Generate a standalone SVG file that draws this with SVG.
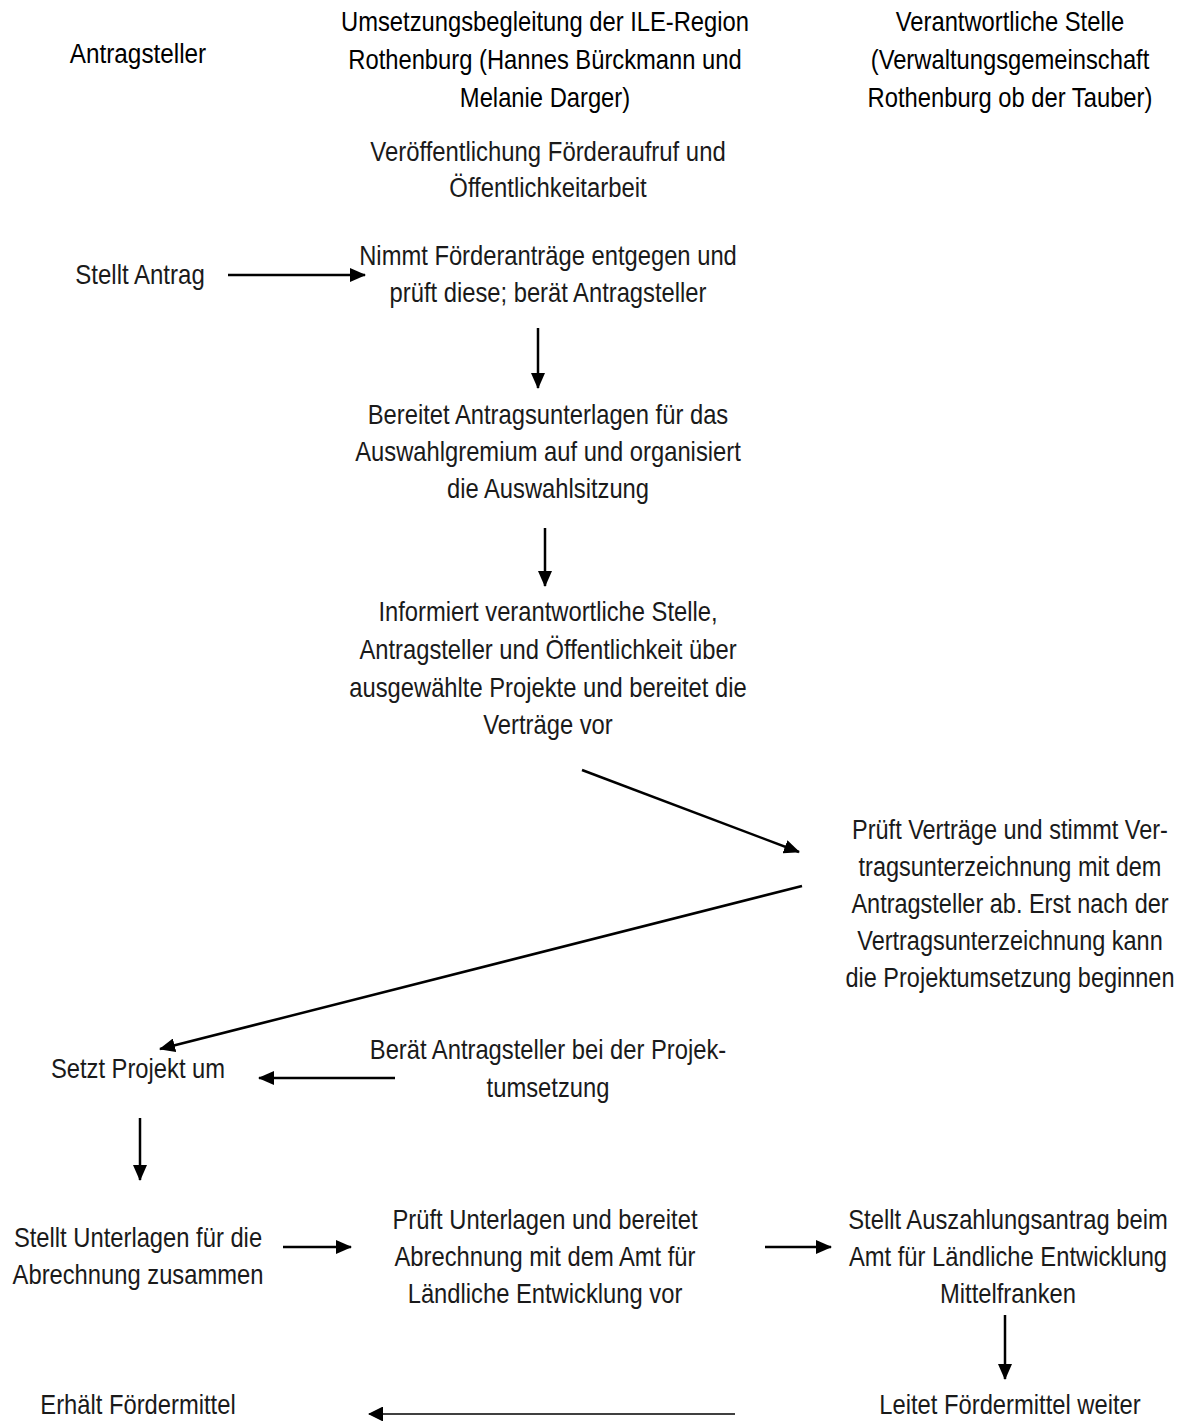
<svg xmlns="http://www.w3.org/2000/svg" width="1179" height="1423" viewBox="0 0 1179 1423">
<style>
text{font-family:"Liberation Sans",Arial,sans-serif;font-size:27px;fill:#000;text-anchor:middle}
.b{fill:#1a1a1a}
.c{stroke:#000;stroke-width:2.5;fill:none;marker-end:url(#ah)}
.t{stroke-width:1.4}
</style>
<defs>
<marker id="ah" viewBox="0 0 16 14" refX="15" refY="7" markerWidth="6.4" markerHeight="5.6" markerUnits="strokeWidth" orient="auto"><path d="M0,0 L16,7 L0,14 z" fill="#000"/></marker>
<marker id="ah2" viewBox="0 0 15 15" refX="14" refY="7.5" markerWidth="10.7" markerHeight="10.7" markerUnits="strokeWidth" orient="auto"><path d="M0,0 L15,7.5 L0,15 z" fill="#000"/></marker>
</defs>
<g id="h1"><g transform="translate(138 0) scale(0.9 1)"><text x="0" y="63">Antragsteller</text></g></g>
<g id="h2"><g transform="translate(545 0) scale(0.88 1)"><text x="0" y="31">Umsetzungsbegleitung der ILE-Region</text><text x="0" y="69">Rothenburg (Hannes Bürckmann und</text><text x="0" y="107">Melanie Darger)</text></g></g>
<g id="h3"><g transform="translate(1010 0) scale(0.88 1)"><text x="0" y="31">Verantwortliche Stelle</text><text x="0" y="69">(Verwaltungsgemeinschaft</text><text x="0" y="107">Rothenburg ob der Tauber)</text></g></g>
<g id="n1"><g transform="translate(548 0) scale(0.885 1)"><text class="b" x="0" y="161">Veröffentlichung Förderaufruf und</text><text class="b" x="0" y="197">Öffentlichkeitarbeit</text></g></g>
<g id="n2"><g transform="translate(140 0) scale(0.89 1)"><text class="b" x="0" y="284">Stellt Antrag</text></g></g>
<g id="n3"><g transform="translate(548 0) scale(0.88 1)"><text class="b" x="0" y="265">Nimmt Förderanträge entgegen und</text><text class="b" x="0" y="302">prüft diese; berät Antragsteller</text></g></g>
<g id="n4"><g transform="translate(548 0) scale(0.88 1)"><text class="b" x="0" y="424">Bereitet Antragsunterlagen für das</text><text class="b" x="0" y="461">Auswahlgremium auf und organisiert</text><text class="b" x="0" y="498">die Auswahlsitzung</text></g></g>
<g id="n5"><g transform="translate(548 0) scale(0.88 1)"><text class="b" x="0" y="621">Informiert verantwortliche Stelle,</text><text class="b" x="0" y="659">Antragsteller und Öffentlichkeit über</text><text class="b" x="0" y="697">ausgewählte Projekte und bereitet die</text><text class="b" x="0" y="734">Verträge vor</text></g></g>
<g id="n6"><g transform="translate(1010 0) scale(0.87 1)"><text class="b" x="0" y="839">Prüft Verträge und stimmt Ver-</text><text class="b" x="0" y="876">tragsunterzeichnung mit dem</text><text class="b" x="0" y="913">Antragsteller ab. Erst nach der</text><text class="b" x="0" y="950">Vertragsunterzeichnung kann</text><text class="b" x="0" y="987">die Projektumsetzung beginnen</text></g></g>
<g id="n7"><g transform="translate(138 0) scale(0.88 1)"><text class="b" x="0" y="1078">Setzt Projekt um</text></g></g>
<g id="n8"><g transform="translate(548 0) scale(0.88 1)"><text class="b" x="0" y="1059">Berät Antragsteller bei der Projek-</text><text class="b" x="0" y="1097">tumsetzung</text></g></g>
<g id="n9"><g transform="translate(138 0) scale(0.88 1)"><text class="b" x="0" y="1247">Stellt Unterlagen für die</text><text class="b" x="0" y="1284">Abrechnung zusammen</text></g></g>
<g id="n10"><g transform="translate(545 0) scale(0.88 1)"><text class="b" x="0" y="1229">Prüft Unterlagen und bereitet</text><text class="b" x="0" y="1266">Abrechnung mit dem Amt für</text><text class="b" x="0" y="1303">Ländliche Entwicklung vor</text></g></g>
<g id="n11"><g transform="translate(1008 0) scale(0.88 1)"><text class="b" x="0" y="1229">Stellt Auszahlungsantrag beim</text><text class="b" x="0" y="1266">Amt für Ländliche Entwicklung</text><text class="b" x="0" y="1303">Mittelfranken</text></g></g>
<g id="n12"><g transform="translate(138 0) scale(0.88 1)"><text class="b" x="0" y="1414">Erhält Fördermittel</text></g></g>
<g id="n13"><g transform="translate(1010 0) scale(0.88 1)"><text class="b" x="0" y="1414">Leitet Fördermittel weiter</text></g></g>
<g id="connectors">
<line class="c" x1="228" y1="275" x2="365" y2="275"/>
<line class="c" x1="538" y1="328" x2="538" y2="388"/>
<line class="c" x1="545" y1="528" x2="545" y2="586"/>
<line class="c" x1="582" y1="770" x2="799" y2="852"/>
<line class="c" x1="802" y1="886" x2="160" y2="1049"/>
<line class="c" x1="395" y1="1078" x2="259" y2="1078"/>
<line class="c" x1="140" y1="1118" x2="140" y2="1180"/>
<line class="c" x1="283" y1="1247" x2="351" y2="1247"/>
<line class="c" x1="765" y1="1247" x2="831" y2="1247"/>
<line class="c" x1="1005" y1="1315" x2="1005" y2="1379"/>
<line class="c t" x1="735" y1="1414" x2="369" y2="1414" style="marker-end:url(#ah2)"/>
</g>
</svg>
